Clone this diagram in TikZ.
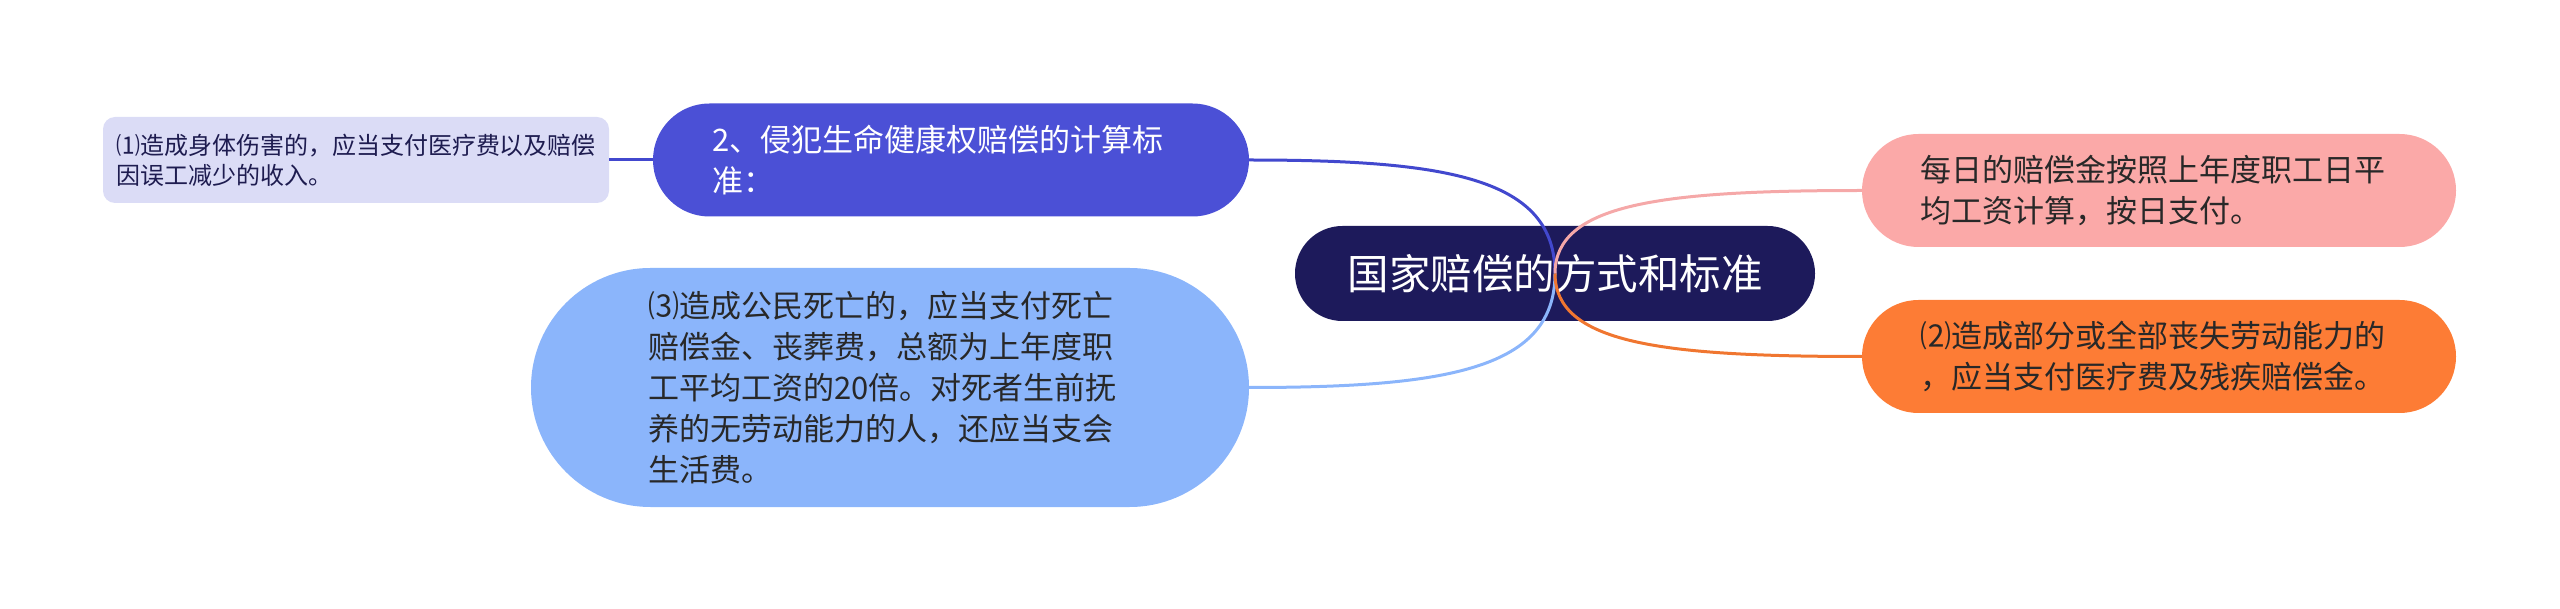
\documentclass[tikz,border=0pt]{standalone}
\usepackage{fontspec}
\setmainfont{Noto Sans CJK SC}
\usetikzlibrary{calc}
\definecolor{rootc}{RGB}{29,26,91}
\definecolor{bluec}{RGB}{75,80,214}
\definecolor{lavc}{RGB}{219,220,246}
\definecolor{lbluec}{RGB}{139,181,251}
\definecolor{pinkc}{RGB}{251,169,168}
\definecolor{orangec}{RGB}{253,124,53}
\definecolor{darktext}{RGB}{40,40,40}
\definecolor{navytext}{RGB}{30,28,80}
\definecolor{pinkline}{RGB}{245,168,168}
\definecolor{orangeline}{RGB}{240,118,48}
\definecolor{blueline}{RGB}{66,72,206}
\tikzset{
  box/.style={inner sep=0pt, align=left},
  bigtxt/.style={font=\fontsize{31}{41}\selectfont},
  conn/.style={line width=3pt},
}
\begin{document}
\begin{tikzpicture}[x=1pt,y=-1pt]
\useasboundingbox (0,0) rectangle (2560,609);
% nodes
\node[box, fill=rootc, text=white, minimum width=520, minimum height=95,
      rounded corners=47.4, font=\fontsize{41.5}{50}\selectfont] (root) at (1555,273.5) {国家赔偿的方式和标准};
\node[box, bigtxt, fill=bluec, text=white, minimum width=596, minimum height=113,
      rounded corners=56.4, text width=478] (n2) at (951,160) {2、侵犯生命健康权赔偿的计算标\\准：};
\node[box, fill=lavc, text=navytext, minimum width=506, minimum height=86,
      rounded corners=12, font=\fontsize{24}{30}\selectfont] (n1) at (356,160) {⑴造成身体伤害的，应当支付医疗费以及赔偿\\因误工减少的收入。};
\node[box, bigtxt, fill=lbluec, text=darktext, minimum width=718, minimum height=239,
      rounded corners=119.4, text width=484] (n3) at (890,387.5) {⑶造成公民死亡的，应当支付死亡\\赔偿金、丧葬费，总额为上年度职\\工平均工资的20倍。对死者生前抚\\养的无劳动能力的人，还应当支会\\生活费。};
\node[box, bigtxt, fill=pinkc, text=darktext, minimum width=594, minimum height=113,
      rounded corners=56.4, text width=478] (pk) at (2159,190.5) {每日的赔偿金按照上年度职工日平\\均工资计算，按日支付。};
\node[box, bigtxt, fill=orangec, text=darktext, minimum width=594, minimum height=113,
      rounded corners=56.4, text width=478] (or) at (2159,356.5) {⑵造成部分或全部丧失劳动能力的\\，应当支付医疗费及残疾赔偿金。};
% connectors
\draw[conn, blueline] (n1.east) -- (n2.west);
\draw[conn, blueline] (root.center) .. controls ($(root.center)+(0,-95)$) and ($(n2.east)+(200,0)$) .. (n2.east);
\draw[conn, lbluec] (root.center) .. controls ($(root.center)+(0,95)$) and ($(n3.east)+(200,0)$) .. (n3.east);
\draw[conn, pinkline] (root.center) .. controls ($(root.center)+(0,-70)$) and ($(pk.west)+(-200,0)$) .. (pk.west);
\draw[conn, orangeline] (root.center) .. controls ($(root.center)+(0,70)$) and ($(or.west)+(-200,0)$) .. (or.west);
\end{tikzpicture}
\end{document}
